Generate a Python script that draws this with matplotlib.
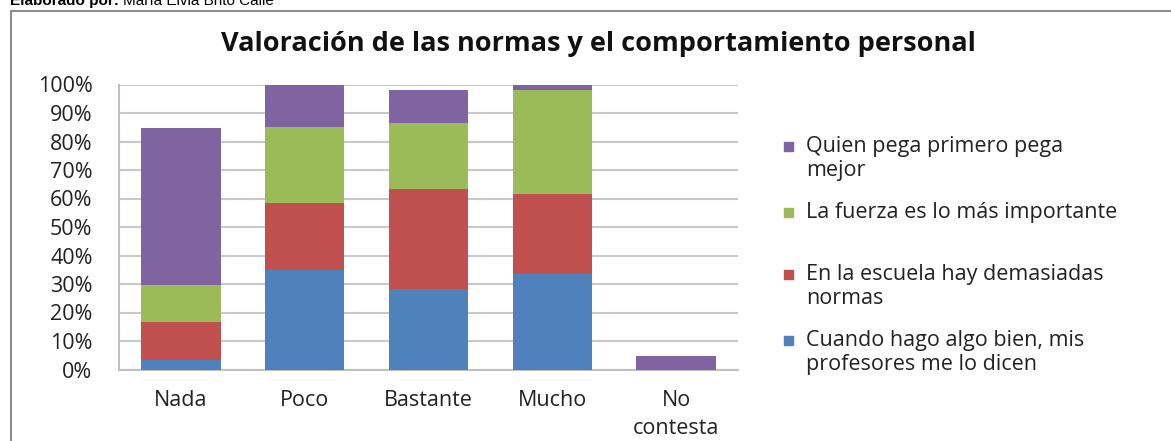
import matplotlib
matplotlib.use("Agg")
import matplotlib.pyplot as plt
from matplotlib.patches import Rectangle
import numpy as np

plt.rcParams['font.family'] = ['Open Sans', 'DejaVu Sans']

categories = ["Nada", "Poco", "Bastante", "Mucho", "No\ncontesta"]
series_names = [
    "Cuando hago algo bien, mis\nprofesores me lo dicen",
    "En la escuela hay demasiadas\nnormas",
    "La fuerza es lo más importante",
    "Quien pega primero pega\nmejor",
]
cuando = [3.4, 34.8, 28.4, 33.5, 0.0]
escuela = [13.3, 23.5, 35.0, 28.0, 0.0]
fuerza = [13.1, 26.9, 23.2, 36.7, 0.0]
quien = [54.8, 14.8, 11.6, 1.8, 4.9]
colors = ["#4F81BD", "#C0504D", "#9BBB59", "#8064A2"]

W, H = 1171, 441
fig = plt.figure(figsize=(W / 100, H / 100), dpi=100)
ax = fig.add_axes([119 / W, (H - 369.5) / H, 619 / W, 285 / H])

x = np.arange(len(categories))
bottom = np.zeros(len(categories))
for vals, col in zip([cuando, escuela, fuerza, quien], colors):
    ax.bar(x, vals, width=0.64, bottom=bottom, color=col, zorder=3)
    bottom += np.array(vals)

fs = 15.5
ax.set_xlim(-0.5, 4.5)
ax.set_ylim(0, 100)
ax.set_yticks(np.arange(0, 101, 10))
ax.set_yticklabels([f"{v}%" for v in range(0, 101, 10)], fontsize=fs, color="#222222")
ax.set_xticks(x)
ax.set_xticklabels(categories, fontsize=fs, color="#222222", linespacing=1.4)
ax.tick_params(length=0)
ax.tick_params(axis="x", pad=15)
ax.tick_params(axis="y", pad=19)
ax.yaxis.grid(True, color="#C8C8C8", linewidth=1.5, zorder=0)
for s in ["top", "right"]:
    ax.spines[s].set_visible(False)
for s in ["left", "bottom"]:
    ax.spines[s].set_color("#C0C0C0")
    ax.spines[s].set_linewidth(1.5)

fig.text(598 / W, 1 - 44 / H, "Valoración de las normas y el comportamiento personal",
         ha="center", va="center", fontsize=19.5, fontweight="bold", color="#111111")

# legend in Excel order (top to bottom: last series first)
leg_y = [146, 212, 274, 340]
leg_pos = dict(zip(series_names[::-1], leg_y))
for name, col in zip(series_names, colors):
    yy = leg_pos[name]
    fig.patches.append(Rectangle((784 / W, 1 - (yy + 5) / H), 9 / W, 9 / H,
                                 transform=fig.transFigure, color=col))
    fig.text(806 / W, 1 - (yy - 10) / H, name, ha="left", va="top",
             fontsize=fs, color="#222222", linespacing=1.2)

# chart border
fig.patches.append(Rectangle((11 / W, -0.01), 1.1, 1 - 11 / H + 0.01,
                             transform=fig.transFigure, fill=False,
                             edgecolor="#8C8C8C", linewidth=1.5))

# header line, cut off by the top edge as in the source
t1 = fig.text(10 / W, 1 - 5 / H, "Elaborado por:", ha="left", va="baseline",
              fontsize=11, fontweight="bold", family="Liberation Sans")
fig.canvas.draw()
bb = t1.get_window_extent()
fig.text(bb.x1 / W + 4 / W, 1 - 5 / H, "María Elvia Brito Calle", ha="left",
         va="baseline", fontsize=11, family="Liberation Sans")

fig.savefig("out.png", dpi=100)
